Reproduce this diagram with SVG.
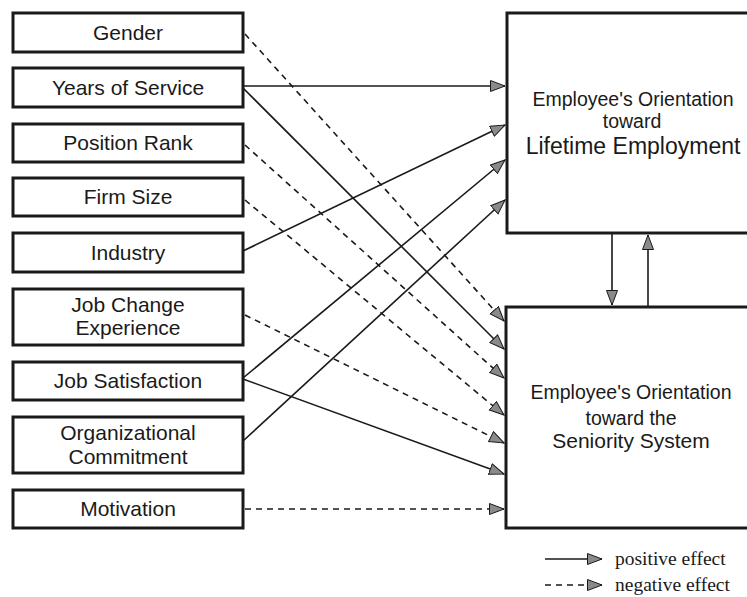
<svg xmlns="http://www.w3.org/2000/svg" width="747" height="597" viewBox="0 0 747 597">
  <defs>
    <style>
      .box { fill: #fff; stroke: #1a1a1a; stroke-width: 3; }
      .lbl { font-family: "Liberation Sans", Arial, sans-serif; font-size: 21px; fill: #1a1a1a; text-anchor: middle; }
      .sm { font-size: 19.5px; }
      .big { font-size: 23px; }
      .mid { font-size: 21px; }
      .pos { fill: none; stroke: #1a1a1a; stroke-width: 1.6; marker-end: url(#arr); }
      .neg { fill: none; stroke: #1a1a1a; stroke-width: 1.6; stroke-dasharray: 6 5; marker-end: url(#arr); }
      .leg { font-family: "Liberation Serif", "Times New Roman", serif; font-size: 19.5px; fill: #1a1a1a; }
    </style>
    <marker id="arr" markerUnits="userSpaceOnUse" markerWidth="17" markerHeight="13" refX="15" refY="6" orient="auto">
      <path d="M0.5,0.5 L15,6 L0.5,11.5 Z" fill="#8a8a8a" stroke="#1a1a1a" stroke-width="1"/>
    </marker>
  </defs>
  <rect width="747" height="597" fill="#fff"/>

  <!-- predictor nodes -->
  <g id="gender"><rect class="box" x="13" y="13" width="230" height="39"/><text class="lbl" x="128" y="39.5">Gender</text></g>
  <g id="years-of-service"><rect class="box" x="13" y="68" width="230" height="39"/><text class="lbl" x="128" y="94.5">Years of Service</text></g>
  <g id="position-rank"><rect class="box" x="13" y="124" width="230" height="38"/><text class="lbl" x="128" y="150">Position Rank</text></g>
  <g id="firm-size"><rect class="box" x="13" y="178" width="230" height="38"/><text class="lbl" x="128" y="204">Firm Size</text></g>
  <g id="industry"><rect class="box" x="13" y="233" width="230" height="39"/><text class="lbl" x="128" y="259.5">Industry</text></g>
  <g id="job-change"><rect class="box" x="13" y="289" width="230" height="56"/><text class="lbl" x="128" y="311.5">Job Change</text><text class="lbl" x="128" y="335">Experience</text></g>
  <g id="job-satisfaction"><rect class="box" x="13" y="362" width="230" height="38"/><text class="lbl" x="128" y="388">Job Satisfaction</text></g>
  <g id="org-commitment"><rect class="box" x="13" y="417" width="230" height="56"/><text class="lbl" x="128" y="440">Organizational</text><text class="lbl" x="128" y="464">Commitment</text></g>
  <g id="motivation"><rect class="box" x="13" y="490" width="230" height="38"/><text class="lbl" x="128" y="516">Motivation</text></g>

  <!-- outcome nodes -->
  <g id="lifetime-employment">
    <rect class="box" x="507" y="13" width="260" height="220"/>
    <text class="lbl sm" x="633" y="106">Employee's Orientation</text>
    <text class="lbl sm" x="632" y="128">toward</text>
    <text class="lbl big" x="633" y="154">Lifetime Employment</text>
  </g>
  <g id="seniority-system">
    <rect class="box" x="506" y="307" width="260" height="221"/>
    <text class="lbl sm" x="631" y="399">Employee's Orientation</text>
    <text class="lbl sm" x="631" y="425">toward the</text>
    <text class="lbl mid" x="631" y="448">Seniority System</text>
  </g>

  <!-- effects -->
  <g id="connectors">
    <line class="pos" x1="243" y1="86" x2="505" y2="86"/>
    <line class="pos" x1="243" y1="251" x2="505" y2="125"/>
    <line class="pos" x1="243" y1="378" x2="505" y2="160"/>
    <line class="pos" x1="243" y1="441" x2="505" y2="200"/>

    <line class="neg" x1="245" y1="34" x2="504" y2="321"/>
    <line class="pos" x1="243" y1="88" x2="504" y2="349"/>
    <line class="neg" x1="245" y1="145" x2="504" y2="378"/>
    <line class="neg" x1="245" y1="200" x2="504" y2="415"/>
    <line class="neg" x1="245" y1="315" x2="504" y2="443"/>
    <line class="pos" x1="243" y1="379" x2="504" y2="474"/>
    <line class="neg" x1="245" y1="509" x2="504" y2="509"/>

    <line class="pos" x1="612" y1="234" x2="612" y2="305"/>
    <line class="pos" x1="648" y1="306" x2="648" y2="235"/>
  </g>

  <!-- legend -->
  <g id="legend">
    <line class="pos" x1="545" y1="559" x2="602" y2="559"/>
    <text class="leg" x="615" y="565">positive effect</text>
    <line class="neg" x1="545" y1="585" x2="602" y2="585"/>
    <text class="leg" x="615" y="591">negative effect</text>
  </g>
</svg>
